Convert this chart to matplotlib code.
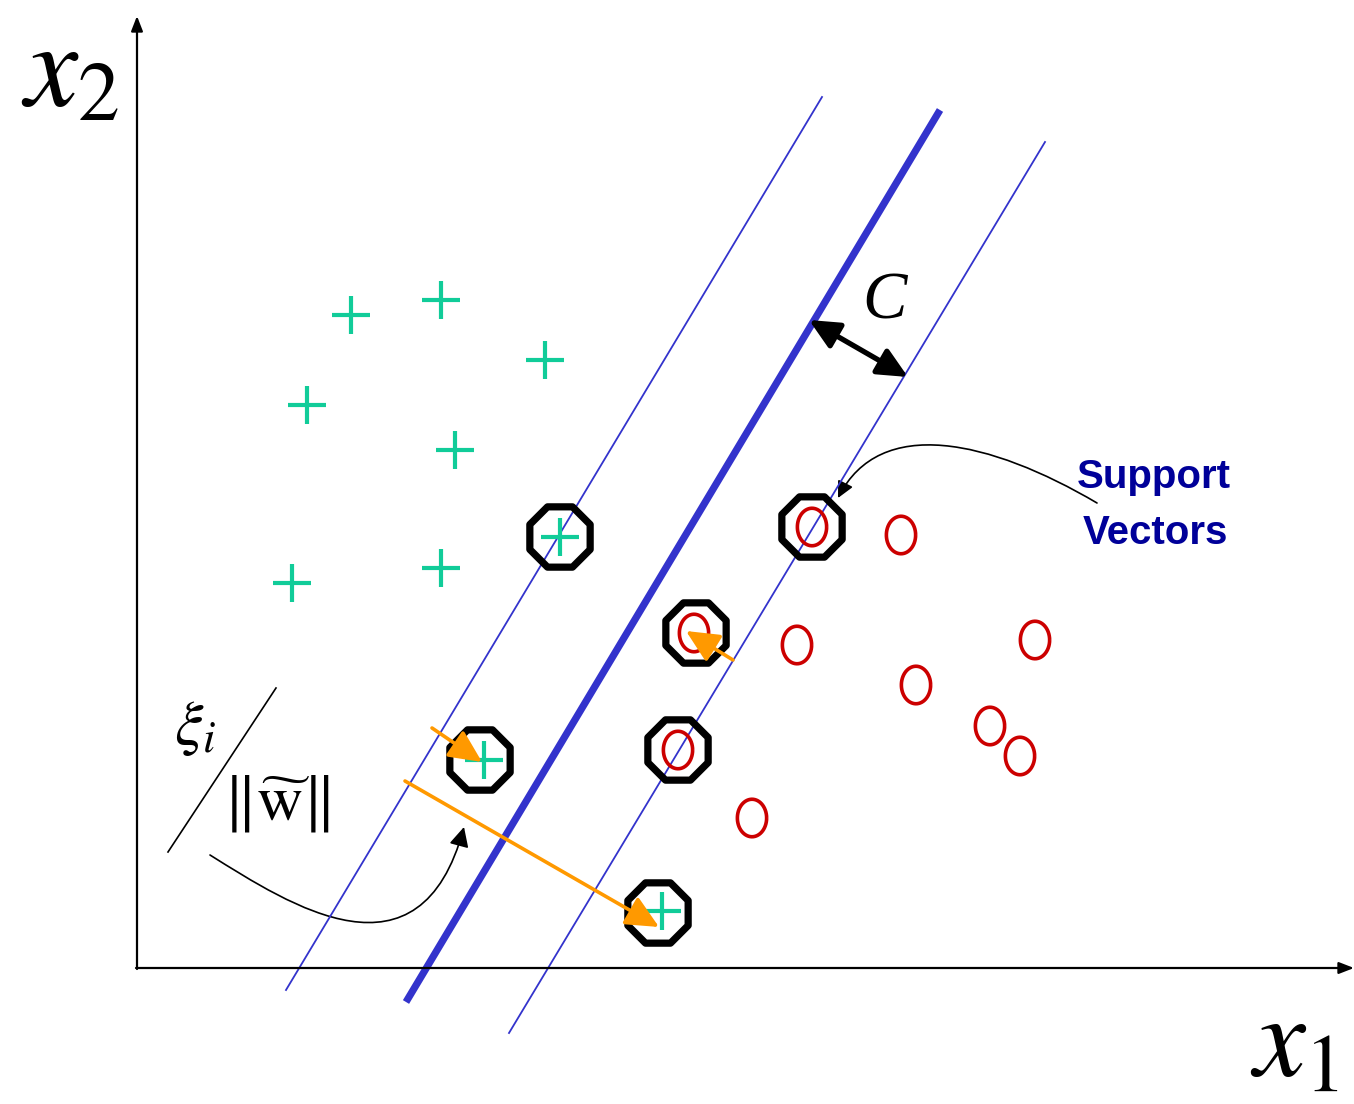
import matplotlib
matplotlib.use("Agg")
import matplotlib.pyplot as plt
import numpy as np
from matplotlib.path import Path
from matplotlib.patches import FancyArrowPatch

plt.rcParams['mathtext.fontset'] = 'stix'

# ---- data (diagram coordinates, y grows downward) ----
plus_x = [351, 441, 545, 307, 455, 292, 441, 560, 484, 662]
plus_y = [315, 300, 360, 405, 450, 583, 568, 537, 760, 911]
o_x = [901, 797, 1035, 916, 990, 1020, 752, 812, 694, 678]
o_y = [535, 645, 640, 685, 726, 756, 818, 527, 633, 750]
sv_x = [560, 480, 658, 812, 696, 678]
sv_y = [537, 760, 913, 527, 633, 750]

hyper_x = [406, 940]
hyper_y = [1002, 110]
margin_left_x = [286, 822]
margin_left_y = [990, 97]
margin_right_x = [509, 1045]
margin_right_y = [1033, 142]

# slack arrows (start -> end)
slack_start = [(432, 728), (405, 781), (733, 660)]
slack_end = [(482, 762), (659, 927), (686, 631)]

BLUE = '#3333cc'
TEAL = '#11cc99'
RED = '#cc0000'
ORANGE = '#ff9900'

fig = plt.figure(figsize=(13.54, 11.04), dpi=100)
ax = fig.add_axes([0, 0, 1, 1])
ax.set_xlim(0, 1354)
ax.set_ylim(1104, 0)
ax.axis('off')

# axes arrows
ax.annotate('', xy=(137, 16), xytext=(137, 969),
            arrowprops=dict(arrowstyle='-|>,head_length=0.9,head_width=0.35', lw=1.6, color='black',
                            shrinkA=0, shrinkB=0))
ax.annotate('', xy=(1354, 968), xytext=(136, 968),
            arrowprops=dict(arrowstyle='-|>,head_length=0.9,head_width=0.35', lw=1.6, color='black',
                            shrinkA=0, shrinkB=0))

# hyperplane and margins
ax.plot(hyper_x, hyper_y, color=BLUE, lw=5.2, solid_capstyle='butt')
ax.plot(margin_left_x, margin_left_y, color=BLUE, lw=1.3)
ax.plot(margin_right_x, margin_right_y, color=BLUE, lw=1.3)

# markers
ax.scatter(plus_x, plus_y, marker='+', s=27**2, color=TEAL, linewidths=3.0, zorder=3)

t = np.linspace(0, 2 * np.pi, 60)
ell = Path(np.column_stack([0.39 * np.cos(t), 0.5 * np.sin(t)]))
ax.scatter(o_x, o_y, marker=ell, s=27**2, facecolors='none', edgecolors=RED, linewidths=2.6, zorder=3)

ax.scatter(sv_x, sv_y, marker='8', s=47**2, facecolors='none', edgecolors='black', linewidths=5.2, zorder=4)

# slack arrows
for (sx, sy), (ex, ey) in zip(slack_start, slack_end):
    ax.annotate('', xy=(ex, ey), xytext=(sx, sy),
                arrowprops=dict(arrowstyle='-|>,head_length=2.0,head_width=0.95', lw=2.6, color=ORANGE,
                                shrinkA=0, shrinkB=0), zorder=5)

# margin width arrow
ax.annotate('', xy=(908, 377), xytext=(809, 320),
            arrowprops=dict(arrowstyle='<|-|>,head_length=1.8,head_width=0.85', lw=3.8, color='black',
                            shrinkA=0, shrinkB=0), zorder=5)
ax.text(885, 302, 'C', fontsize=48, fontfamily='Liberation Serif', fontstyle='italic',
        ha='center', va='center')

# support vectors label and curved arrow
ax.text(1154, 477, 'Support', fontsize=29, color='#000099', ha='center', va='center',
        fontfamily='Liberation Sans', fontweight='bold')
ax.text(1155, 533, 'Vectors', fontsize=29, color='#000099', ha='center', va='center',
        fontfamily='Liberation Sans', fontweight='bold')
p1 = Path([(1097, 503), (990, 440), (880, 415), (838, 498)],
          [Path.MOVETO, Path.CURVE4, Path.CURVE4, Path.CURVE4])
arr = FancyArrowPatch(path=p1, arrowstyle='-|>,head_length=10,head_width=5', lw=1.2, color='black')
ax.add_patch(arr)

# xi / ||w|| label
ax.plot([168, 276], [852, 688], color='black', lw=1.2)
ax.text(195, 727, r'$\xi_i$', fontsize=46, ha='center', va='center')
ax.text(276, 803, r'$\|\widetilde{\mathrm{w}}\|$', fontsize=46, ha='center', va='center')
p2 = Path([(210, 855), (290, 905), (420, 990), (464, 827)],
          [Path.MOVETO, Path.CURVE4, Path.CURVE4, Path.CURVE4])
arr2 = FancyArrowPatch(path=p2, arrowstyle='-|>,head_length=12,head_width=6', lw=1.2, color='black')
ax.add_patch(arr2)

# axis labels
ax.text(70, 72, r'$x_2$', fontsize=86, ha='center', va='center')
ax.text(1295, 1044, r'$x_1$', fontsize=84, ha='center', va='center')

fig.savefig('out.png', dpi=100)
